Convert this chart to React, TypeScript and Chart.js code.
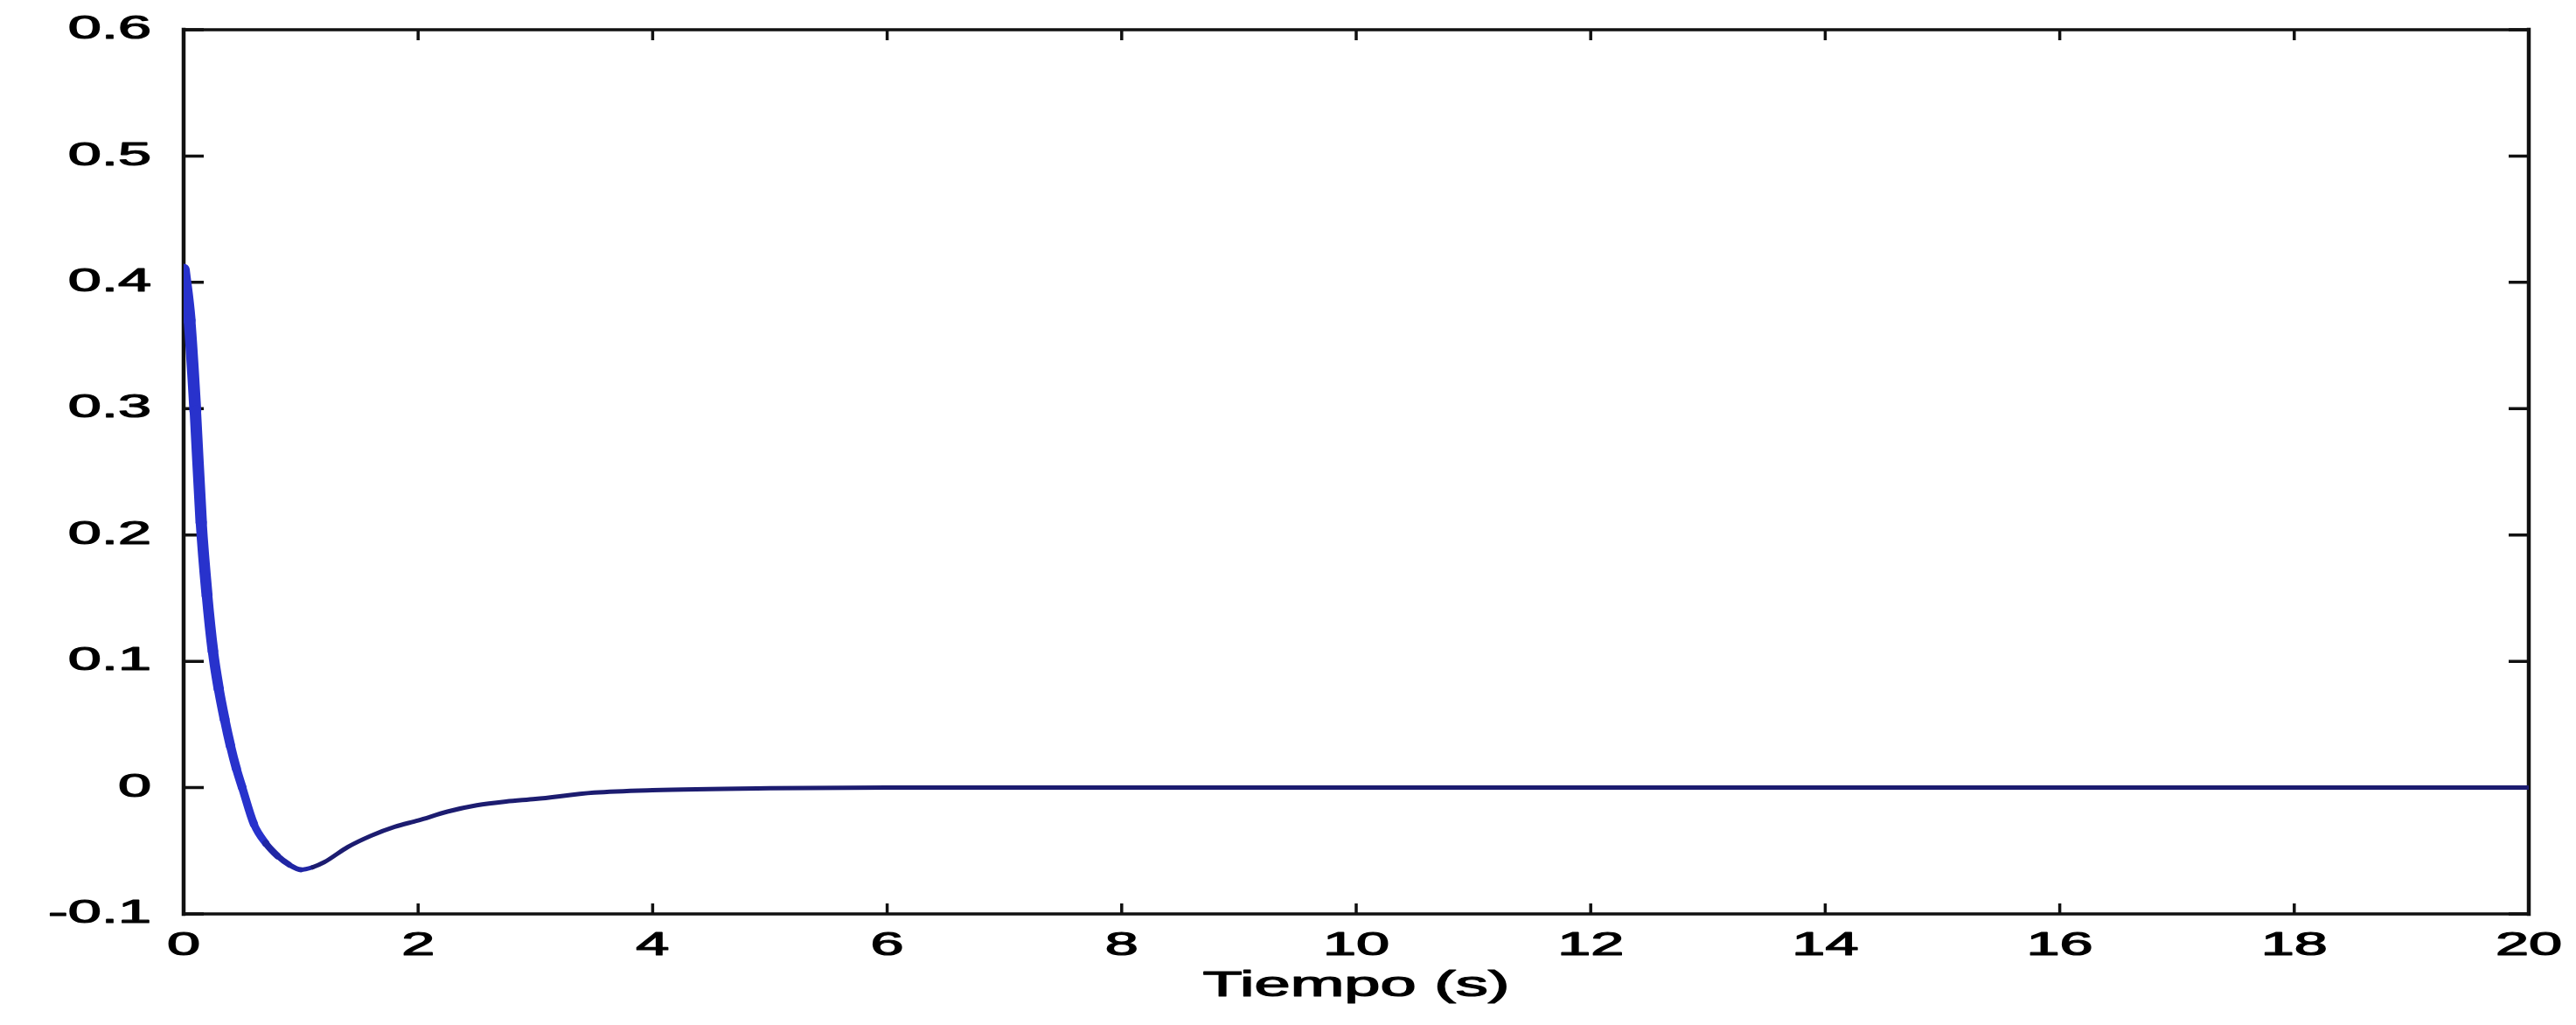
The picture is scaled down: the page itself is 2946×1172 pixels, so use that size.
import React, { useEffect, useRef } from 'react';
import { Chart, registerables } from 'chart.js';

Chart.register(...registerables);

// ---- Data ----
const timeValues = [
  0, 0.05, 0.1, 0.15, 0.2, 0.25, 0.3, 0.35, 0.4, 0.45, 0.5, 0.6, 0.7, 0.8, 0.9,
  1.0, 1.1, 1.2, 1.4, 1.6, 1.8, 2.0, 2.25, 2.5, 2.75, 3.0, 3.5, 4.0, 5, 6, 8,
  10, 12, 14, 16, 18, 20,
];
const responseValues = [
  0.41, 0.37, 0.298, 0.21, 0.152, 0.108, 0.078, 0.054, 0.033, 0.015, 0.0,
  -0.029, -0.044, -0.054, -0.061, -0.065, -0.063, -0.059, -0.047, -0.038,
  -0.031, -0.026, -0.019, -0.014, -0.011, -0.009, -0.004, -0.002, -0.0005, 0, 0,
  0, 0, 0, 0, 0, 0,
];
const xTickLabels = ['0', '2', '4', '6', '8', '10', '12', '14', '16', '18', '20'];
const yTickLabels = ['-0.1', '0', '0.1', '0.2', '0.3', '0.4', '0.5', '0.6'];
const xAxisTitle = 'Tiempo (s)';

const W = 2946;
const H = 1172;
const TEXT_SX = 1.85;
const FONT = "'Liberation Sans', Arial, Helvetica, sans-serif";

export default function App() {
  const ref = useRef<HTMLCanvasElement>(null);

  useEffect(() => {
    document.body.style.margin = '0';
    const canvas = ref.current!;

    const stretchAndBg = {
      id: 'stretchAndBg',
      beforeDraw(chart: any) {
        const ctx = chart.ctx as any;
        if (!ctx.__stretched) {
          const origFill = ctx.fillText.bind(ctx);
          const origStroke = ctx.strokeText.bind(ctx);
          ctx.fillText = (text: string, x: number, y: number) => {
            ctx.save();
            ctx.translate(x, y);
            ctx.scale(TEXT_SX, 1);
            ctx.strokeStyle = ctx.fillStyle;
            ctx.lineWidth = 1.2;
            ctx.lineJoin = 'round';
            origStroke(text, 0, 0);
            origFill(text, 0, 0);
            ctx.restore();
          };
          ctx.__stretched = true;
        }
        ctx.save();
        ctx.fillStyle = '#ffffff';
        ctx.fillRect(0, 0, chart.width, chart.height);
        ctx.restore();
      },
    };

    const boxAndTicks = {
      id: 'boxAndTicks',
      beforeDatasetsDraw(chart: any) {
        const ctx = chart.ctx;
        const { left, right, top, bottom } = chart.chartArea;
        const xs = chart.scales.x;
        const ys = chart.scales.y;
        ctx.save();
        ctx.strokeStyle = '#111111';
        ctx.lineCap = 'square';
        ctx.lineWidth = 3.5;
        ctx.beginPath();
        ctx.moveTo(left, top);
        ctx.lineTo(right, top);
        ctx.moveTo(left, bottom);
        ctx.lineTo(right, bottom);
        ctx.stroke();
        ctx.lineWidth = 4.5;
        ctx.beginPath();
        ctx.moveTo(left, top);
        ctx.lineTo(left, bottom);
        ctx.moveTo(right, top);
        ctx.lineTo(right, bottom);
        ctx.stroke();
        ctx.lineCap = 'butt';
        ctx.lineWidth = 3.5;
        ctx.beginPath();
        xs.ticks.forEach((_t: any, i: number) => {
          const px = xs.getPixelForTick(i);
          ctx.moveTo(px, bottom);
          ctx.lineTo(px, bottom - 12);
          ctx.moveTo(px, top);
          ctx.lineTo(px, top + 12);
        });
        ys.ticks.forEach((_t: any, i: number) => {
          const py = ys.getPixelForTick(i);
          ctx.moveTo(left, py);
          ctx.lineTo(left + 23, py);
          ctx.moveTo(right, py);
          ctx.lineTo(right - 23, py);
        });
        ctx.stroke();
        ctx.restore();
      },
    };

    const points = timeValues.map((t, i) => ({ x: t, y: responseValues[i] }));

    const chart = new Chart(canvas, {
      type: 'line',
      data: {
        datasets: [
          {
            data: points,
            borderColor: '#1c1c70',
            borderWidth: 5,
            borderCapStyle: 'round',
            borderJoinStyle: 'round',
            pointRadius: 0,
            cubicInterpolationMode: 'monotone',
            fill: false,
            segment: {
              borderColor: (c: any) =>
                c.p0.parsed.x < 0.7 ? '#2832cc' : c.p0.parsed.x < 1.1 ? '#2026a4' : '#1c1c70',
              borderWidth: (c: any) => {
                const x = c.p0.parsed.x;
                return x < 1 ? 5 + 9 * (1 - x) : 5;
              },
            },
          } as any,
        ],
      },
      options: {
        animation: false,
        responsive: false,
        maintainAspectRatio: false,
        devicePixelRatio: 1,
        layout: { padding: { top: 34, right: 54, left: 0, bottom: 0 } },
        plugins: {
          legend: { display: false },
          tooltip: { enabled: false },
          title: { display: false },
        },
        scales: {
          x: {
            type: 'linear',
            min: 0,
            max: 20,
            grid: { display: false, drawTicks: false },
            border: { display: false },
            ticks: {
              stepSize: 2,
              autoSkip: false,
              maxRotation: 0,
              padding: 15,
              color: '#000',
              font: { family: FONT, size: 37 },
              callback: (_v: any, i: number) => xTickLabels[i],
            },
            title: {
              display: true,
              text: xAxisTitle,
              color: '#000',
              font: { family: FONT, size: 40 },
              padding: { top: 0, bottom: 20 },
            },
            afterFit: (s: any) => {
              s.height = 127;
              s.paddingLeft = 0;
              s.paddingRight = 0;
            },
          },
          y: {
            type: 'linear',
            min: -0.1,
            max: 0.6,
            grid: { display: false, drawTicks: false },
            border: { display: false },
            ticks: {
              stepSize: 0.1,
              autoSkip: false,
              padding: 37,
              color: '#000',
              font: { family: FONT, size: 37 },
              callback: (_v: any, i: number) => yTickLabels[i],
            },
            afterFit: (s: any) => {
              s.width = 210;
              s.paddingTop = 0;
              s.paddingBottom = 0;
            },
          },
        },
      } as any,
      plugins: [stretchAndBg, boxAndTicks],
    });

    return () => chart.destroy();
  }, []);

  return (
    <canvas
      ref={ref}
      width={W}
      height={H}
      style={{ display: 'block', width: W + 'px', height: H + 'px' }}
    />
  );
}
